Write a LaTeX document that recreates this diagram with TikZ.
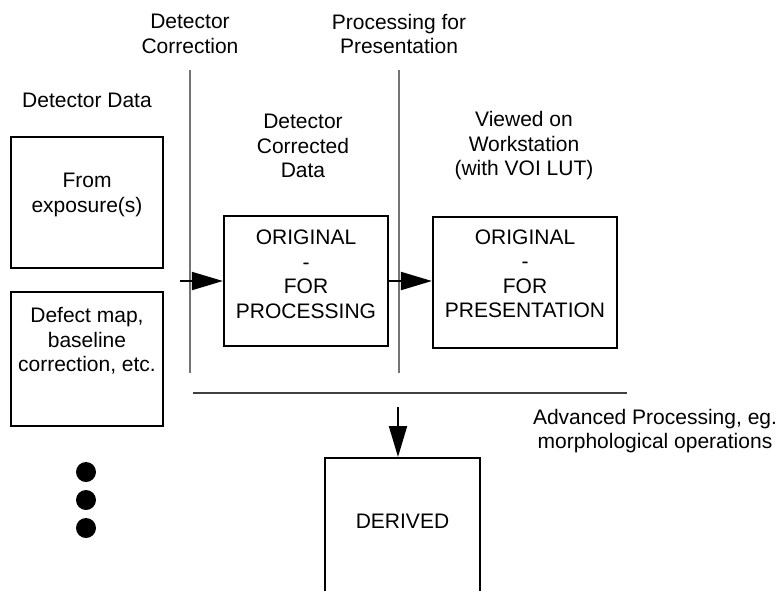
\documentclass[tikz,border=0pt]{standalone}
\usepackage{fontspec}
\setmainfont{Liberation Sans}
\usetikzlibrary{arrows.meta}
\begin{document}
\begin{tikzpicture}[x=1pt,y=-1pt,
  font=\fontsize{21}{24.5}\selectfont,
  every label/.style={align=center},
  box/.style={draw, line width=2.2pt, inner sep=0pt},
  caption/.style={align=center, inner sep=0pt},
  divider/.style={line width=1.2pt, draw=black!55},
  arr/.style={line width=2pt, -{Triangle[length=31pt,width=18pt]}},
  dot/.style={circle, fill=black, inner sep=0pt, minimum size=20pt}]
\useasboundingbox (0,0) rectangle (782,590);
\clip (0,0) rectangle (782,590);

% column headings
\node[caption] (hcorr) at (190,34) {Detector\\Correction};
\node[caption] (hpres) at (399,34) {Processing for\\Presentation};
\node[caption] (hdata) at (87,100) {Detector Data};
\node[caption] (hcd) at (303,146) {Detector\\Corrected\\Data};
\node[caption] (hview) at (524,146) {Viewed on\\Workstation\\(with VOI LUT)};
\node[caption] (hadv) at (655,431) {Advanced Processing, eg.\\morphological operations};

% dividers
\coordinate (v1t) at (190,70);  \coordinate (v1b) at (190,373);
\coordinate (v2t) at (399,70);  \coordinate (v2b) at (399,373);
\coordinate (hl) at (193,393);  \coordinate (hr) at (627,393);
\draw[divider] (v1t) -- (v1b);
\draw[divider] (v2t) -- (v2b);
\draw[line width=1.2pt, draw=black!75] (hl) -- (hr);

% boxes
\node[box, minimum width=152pt, minimum height=131pt,
  label={[yshift=7.5pt]center:From\\exposure(s)}] (exp) at (87,202.5) {};
\node[box, minimum width=152pt, minimum height=134pt,
  label={[yshift=18pt]center:Defect map,\\baseline\\correction, etc.}] (defect) at (87,359) {};
\node[box, minimum width=164pt, minimum height=130pt,
  label={[yshift=6.5pt]center:ORIGINAL\\-\\FOR\\PROCESSING}] (proc) at (306,281) {};
\node[box, minimum width=184pt, minimum height=131pt,
  label={[yshift=8.5pt]center:ORIGINAL\\-\\FOR\\PRESENTATION}] (pres) at (525,282.5) {};
\node[box, minimum width=155pt, minimum height=200pt, anchor=north,
  label={[yshift=37pt]center:DERIVED}] (derived) at (402.5,457) {};

% dots
\node[dot] (d1) at (86,472) {};
\node[dot] (d2) at (86,500) {};
\node[dot] (d3) at (86,528) {};

% arrows
\coordinate (a1) at (180,281);
\draw[arr] (a1) -- (proc.west);
\draw[arr] (proc.east) -- (proc.east -| pres.west);
\coordinate (a3) at (398,407);
\draw[arr] (a3) -- (a3 |- derived.north);
\end{tikzpicture}
\end{document}
